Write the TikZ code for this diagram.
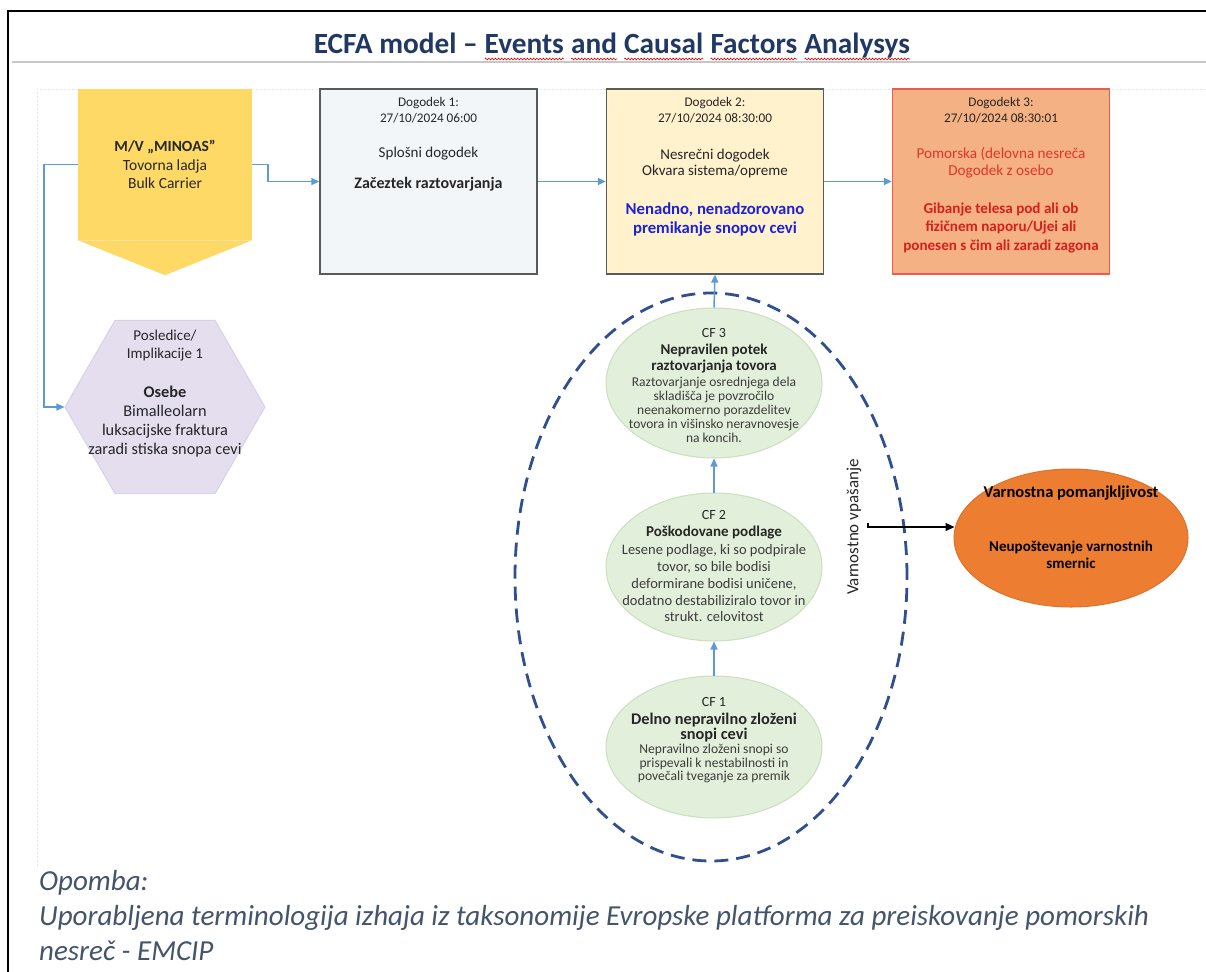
\documentclass[tikz,border=0pt]{standalone}
\usepackage{fontspec}
\setmainfont{Carlito}
\usetikzlibrary{arrows.meta,shapes.geometric,decorations.pathmorphing,calc}

\definecolor{titleblue}{HTML}{1F3864}
\definecolor{flowblue}{HTML}{5B9BD5}
\definecolor{shipyellow}{HTML}{FFD966}
\definecolor{shipseam}{HTML}{F6E2A4}
\definecolor{evonefill}{HTML}{F3F6F9}
\definecolor{evtwofill}{HTML}{FFF2CC}
\definecolor{evthreefill}{HTML}{F4B183}
\definecolor{evthreeline}{HTML}{EE5A4F}
\definecolor{evline}{HTML}{5A5A5A}
\definecolor{evred}{HTML}{E3342F}
\definecolor{evredbold}{HTML}{D61F1F}
\definecolor{evblue}{HTML}{1E22D6}
\definecolor{hexfill}{HTML}{E4DEEF}
\definecolor{hexline}{HTML}{D9D1E8}
\definecolor{cffill}{HTML}{E2EFDA}
\definecolor{cfline}{HTML}{CADFBC}
\definecolor{barrier}{HTML}{2F4F8F}
\definecolor{defectfill}{HTML}{ED7D31}
\definecolor{defectline}{HTML}{D9732C}
\definecolor{notecol}{HTML}{44546A}
\definecolor{textdark}{HTML}{262626}
\definecolor{rulegrey}{HTML}{C8C8C8}
\definecolor{faintgrey}{HTML}{E6E6E6}

\newcommand\fsz[2]{\fontsize{#1}{#2}\selectfont}
% word with a red wavy underline
\newcommand\spellmark[1]{\tikz[baseline=(w.base)]{\node[inner sep=0pt,outer sep=0pt](w){#1};\draw[red!85!black,line width=0.6pt,decorate,decoration={snake,amplitude=0.9pt,segment length=3.2pt}]([yshift=-5pt]w.base west)--([yshift=-5pt]w.base east);}}

\begin{document}
\begin{tikzpicture}[x=1pt,y=-1pt,
  txt/.style={inner sep=0pt,outer sep=0pt,align=center,text=textdark},
  flow/.style={draw=flowblue,line width=1.5pt,-{Triangle[length=8pt,width=7pt]}},
  evbox/.style={rectangle,draw=evline,line width=1.3pt,minimum width=217pt,minimum height=185pt,inner sep=0pt},
  cfnode/.style={ellipse,fill=cffill,draw=cfline,line width=1pt,minimum width=216pt,inner sep=0pt}
]
\useasboundingbox (0,0) rectangle (1206,971);
\fill[white] (0,0) rectangle (1206,971);

% page frame, header rule and faint drawing area
\draw[line width=2pt] (8,975) -- (8,11) -- (1210,11);
\draw[rulegrey,line width=1.5pt] (12,62) -- (1206,62);
\draw[faintgrey,line width=0.8pt,dash pattern=on 2pt off 2pt] (37,866) -- (37,89) -- (1206,89);

% title
\node[inner sep=0pt,anchor=base,text=titleblue,font=\bfseries\fsz{29.3}{33}] (title) at (612,54)
  {ECFA model – \spellmark{Events} \spellmark{and} \spellmark{Causal} \spellmark{Factors} \spellmark{Analysys}};

% ship (pentagon pointing down)
\node[rectangle,fill=shipyellow,minimum width=174pt,minimum height=151pt,inner sep=0pt] (ship) at (165,164.5) {};
\fill[shipyellow] (ship.south west) -- (ship.south east) -- ($(ship.south)+(0,35)$) -- cycle;
\draw[shipseam,line width=0.8pt] (ship.south west) -- (ship.south east);
\node[txt,font=\fsz{15.5}{18.5}] (shiptext) at (ship.center)
  {\textbf{M/V „MINOAS”}\\Tovorna ladja\\Bulk Carrier};

% events
\node[evbox,fill=evonefill] (ev1) at (428.5,181.5) {};
\node[evbox,fill=evtwofill] (ev2) at (715,181.5) {};
\node[evbox,fill=evthreefill,draw=evthreeline] (ev3) at (1001,181.5) {};

\node[txt,font=\fsz{13.2}{16}] (ev1head) at ($(ev1.north)+(0,22)$) {Dogodek 1:\\27/10/2024 06:00};
\node[txt,font=\fsz{15}{17}] (ev1kind) at ($(ev1.north)+(0,65)$) {Splošni dogodek};
\node[txt,font=\bfseries\fsz{16}{18}] (ev1what) at ($(ev1.north)+(0,96)$) {Začeztek raztovarjanja};

\node[txt,font=\fsz{13.2}{16}] (ev2head) at ($(ev2.north)+(0,22)$) {Dogodek 2:\\27/10/2024 08:30:00};
\node[txt,font=\fsz{15}{16.5}] (ev2kind) at ($(ev2.north)+(0,75)$) {Nesrečni dogodek\\Okvara sistema/opreme};
\node[txt,text=evblue,font=\bfseries\fsz{16.7}{19}] (ev2what) at ($(ev2.north)+(0,131.5)$) {Nenadno, nenadzorovano\\premikanje snopov cevi};

\node[txt,font=\fsz{13.2}{16}] (ev3head) at ($(ev3.north)+(0,22)$) {Dogodekt 3:\\27/10/2024 08:30:01};
\node[txt,text=evred,font=\fsz{15.2}{16.5}] (ev3kind) at ($(ev3.north)+(0,74.5)$) {Pomorska (delovna nesreča\\Dogodek z osebo};
\node[txt,text=evredbold,font=\bfseries\fsz{15.1}{18.5}] (ev3what) at ($(ev3.north)+(0,139.5)$) {Gibanje telesa pod ali ob\\fizičnem naporu/Ujei ali\\ponesen s čim ali zaradi zagona};

% consequences
\node[regular polygon,regular polygon sides=6,minimum size=200pt,inner sep=0pt,fill=hexfill,draw=hexline,line width=1pt] (hex) at (165,407) {};
\node[txt,font=\fsz{15}{18}] (hexhead) at ($(hex.center)+(0,-61)$) {Posledice/\\Implikacije 1};
\node[txt,font=\fsz{16.3}{19}] (hexbody) at ($(hex.center)+(0,14.5)$) {\textbf{Osebe}\\Bimalleolarn\\luksacijske fraktura\\zaradi stiska snopa cevi};

% barrier around the causal factors
\node[ellipse,draw=barrier,line width=2.8pt,dash pattern=on 14pt off 8pt,minimum width=392pt,minimum height=568pt,inner sep=0pt] (boundary) at (711,577) {};

% causal factors
\node[cfnode,minimum height=150pt] (cf3) at (714,383) {};
\node[cfnode,minimum height=148pt] (cf2) at (714,567) {};
\node[cfnode,minimum height=142pt] (cf1) at (714,747) {};

\node[txt,font=\fsz{14}{16}] (cf3id) at ($(cf3.center)+(0,-50)$) {CF 3};
\node[txt,font=\bfseries\fsz{15}{16}] (cf3title) at ($(cf3.center)+(0,-24)$) {Nepravilen potek\\raztovarjanja tovora};
\node[txt,text=textdark!90,font=\fsz{13.5}{14}] (cf3body) at ($(cf3.center)+(0,27)$) {Raztovarjanje osrednjega dela\\skladišča je povzročilo\\neenakomerno porazdelitev\\tovora in višinsko neravnovesje\\na koncih.};

\node[txt,font=\fsz{14}{16}] (cf2id) at ($(cf2.center)+(0,-52)$) {CF 2};
\node[txt,font=\bfseries\fsz{15}{16}] (cf2title) at ($(cf2.center)+(0,-34)$) {Poškodovane podlage};
\node[txt,text=textdark!90,font=\fsz{14.5}{16.75}] (cf2body) at ($(cf2.center)+(0,16.5)$) {Lesene podlage, ki so podpirale\\tovor, so bile bodisi\\deformirane bodisi uničene,\\dodatno destabiliziralo tovor in\\strukt. celovitost};

\node[txt,font=\fsz{14}{16}] (cf1id) at ($(cf1.center)+(0,-45)$) {CF 1};
\node[txt,font=\bfseries\fsz{16.3}{15.5}] (cf1title) at ($(cf1.center)+(0,-19.5)$) {Delno nepravilno zloženi\\snopi cevi};
\node[txt,text=textdark!90,font=\fsz{13.6}{13.7}] (cf1body) at ($(cf1.center)+(0,16.5)$) {Nepravilno zloženi snopi so\\prispevali k nestabilnosti in\\povečali tveganje za premik};

% safety deficiency
\node[ellipse,fill=defectfill,draw=defectline,line width=1pt,minimum width=234pt,minimum height=138pt,inner sep=0pt] (defect) at (1071,538) {};
\node[txt,text=black,font=\bfseries\fsz{16.5}{18}] (defecttitle) at ($(defect.center)+(0,-45)$) {Varnostna pomanjkljivost};
\node[txt,text=black,font=\bfseries\fsz{15}{17}] (defectbody) at ($(defect.center)+(0,16.5)$) {Neupoštevanje varnostnih\\smernic};

\node[txt,rotate=90,font=\fsz{17}{18}] (intervention) at (854,527) {Varnostno vpašanje};
\coordinate (vstart) at (868,523);
\coordinate (vbend) at (868,527);

% connectors
\draw[flow] (ship.east) -- ++(16,0) |- (ev1.west);
\draw[flow] (ev1.east) -- (ev2.west);
\draw[flow] (ev2.east) -- (ev3.west);
\draw[flow] (ship.west) -- ++(-34,0) |- (hex.west);
\draw[flow] (cf1.north) -- (cf2.south);
\draw[flow] (cf2.north) -- (cf3.south);
\draw[flow] (cf3.north) -- (ev2.south);
\draw[line width=1.3pt,-{Triangle[length=9pt,width=8pt]}] (vstart) -- (vbend) -- ($(vbend -| defect.west)+(1,0)$);

% note
\node[inner sep=0pt,anchor=west,align=left,text=notecol,font=\itshape\fsz{29}{35}] (note) at (39,916)
  {Opomba:\\Uporabljena terminologija izhaja iz taksonomije Evropske platforma za preiskovanje pomorskih\\nesreč - EMCIP};
\end{tikzpicture}
\end{document}
